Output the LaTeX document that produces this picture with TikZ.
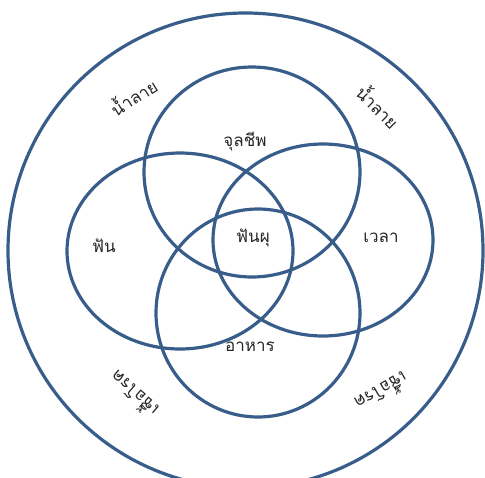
\documentclass[tikz,border=0pt]{standalone}
\usepackage{fontspec}
\newfontfamily\thaifont[Script=Thai]{Loma}
\usepackage{tikz}
\definecolor{vennblue}{HTML}{385D8A}
\definecolor{labelgray}{HTML}{262626}

\begin{document}
\begin{tikzpicture}[x=1pt,y=-1pt,font=\thaifont\fontsize{17}{19}\selectfont,
  ring/.style={vennblue,line width=3.2pt},
  lbl/.style={text=labelgray,inner sep=1pt}]
\useasboundingbox (0,0) rectangle (485,477);
% outer ring
\draw[ring] (245.5,250.5) circle[radius=237.5];
% four factors
\draw[ring] (252,172) ellipse[x radius=108,y radius=105];
\draw[ring] (180,251) ellipse[x radius=113,y radius=98];
\draw[ring] (323,240) ellipse[x radius=110,y radius=96];
\draw[ring] (258,313) ellipse[x radius=102,y radius=104];
% labels
\node[lbl] (microbe) at (245,142) {จุลชีพ};
\node[lbl] (caries) at (253,238) {ฟันผุ};
\node[lbl] (tooth) at (104,246) {ฟัน};
\node[lbl] (time) at (381,238) {เวลา};
\node[lbl] (food) at (250,347) {อาหาร};
\node[lbl,rotate=32] (saliva1) at (133,96) {น้ำลาย};
\node[lbl,rotate=-45] (saliva2) at (379,106) {น้ำลาย};
\node[lbl,rotate=139] (germs1) at (133,395) {เชื้อโรค};
\node[lbl,rotate=210] (germs2) at (382,393) {เชื้อโรค};
\end{tikzpicture}
\end{document}
